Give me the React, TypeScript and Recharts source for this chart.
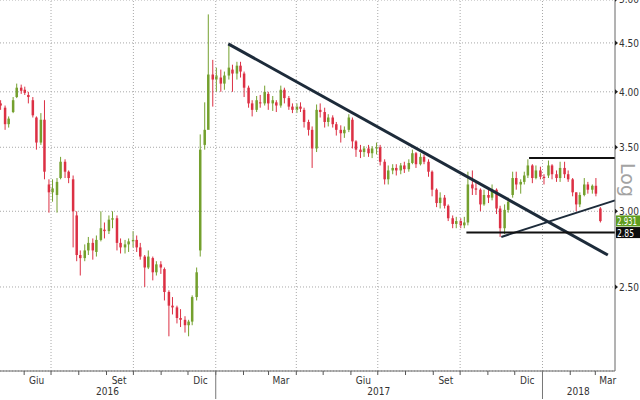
import { ComposedChart, Bar, XAxis, YAxis, CartesianGrid, ReferenceLine } from 'recharts';

// day numbers counted from 2016-01-01, one candle about every 4-5 days
const days = [
  126, 131, 135, 140, 144, 149, 153, 157, 162, 166,
  171, 175, 180, 184, 189, 193, 198, 202, 207, 211,
  215, 220, 224, 229, 233, 238, 242, 247, 251, 256,
  260, 265, 269, 274, 278, 282, 287, 291, 296, 300,
  305, 309, 314, 318, 323, 327, 332, 336, 340, 345,
  349, 354, 358, 363, 367, 372, 376, 381, 385, 390,
  394, 398, 403, 407, 412, 416, 421, 425, 430, 434,
  439, 443, 448, 452, 457, 461, 465, 470, 474, 479,
  483, 488, 492, 497, 501, 506, 510, 515, 519, 523,
  528, 532, 537, 541, 546, 550, 555, 559, 564, 568,
  573, 577, 582, 586, 590, 595, 599, 604, 608, 613,
  617, 622, 626, 631, 635, 640, 644, 648, 653, 657,
  662, 666, 671, 675, 680, 684, 689, 693, 698, 702,
  707, 711, 715, 720, 724, 729, 733, 738, 742, 747,
  751, 756, 760, 765, 769, 773, 778, 782, 787, 791,
  796,
];

const opens = [
  3.89, 3.85, 3.70, 3.81, 3.95, 4.04, 4.02, 3.97, 3.92, 3.76,
  3.54, 3.74, 3.20, 3.14, 3.12, 3.25, 3.38, 3.30, 3.24, 2.97,
  2.70, 2.68, 2.73, 2.78, 2.72, 2.80, 2.87, 2.86, 2.94, 2.95,
  2.78, 2.75, 2.77, 2.79, 2.80, 2.75, 2.69, 2.62, 2.68, 2.59,
  2.64, 2.61, 2.47, 2.39, 2.38, 2.32, 2.31, 2.28, 2.30, 2.44,
  2.73, 3.52, 3.65, 4.17, 4.12, 4.14, 4.08, 4.16, 4.22, 4.18,
  4.26, 4.18, 4.04, 3.89, 3.83, 3.90, 3.89, 3.98, 3.89, 3.90,
  3.87, 4.02, 3.94, 3.86, 3.83, 3.86, 3.83, 3.72, 3.65, 3.49,
  3.83, 3.81, 3.72, 3.76, 3.70, 3.65, 3.62, 3.65, 3.74, 3.55,
  3.48, 3.46, 3.49, 3.45, 3.49, 3.50, 3.38, 3.24, 3.31, 3.33,
  3.31, 3.35, 3.32, 3.37, 3.45, 3.36, 3.42, 3.38, 3.30, 3.16,
  3.06, 3.10, 3.04, 2.95, 2.91, 2.93, 2.90, 2.92, 3.20, 3.17,
  3.16, 3.05, 3.12, 3.10, 3.16, 3.02, 2.88, 3.01, 3.12, 3.25,
  3.20, 3.22, 3.27, 3.35, 3.25, 3.31, 3.26, 3.27, 3.35, 3.28,
  3.25, 3.33, 3.28, 3.24, 3.14, 3.05, 3.12, 3.20, 3.16, 3.19,
  3.02,
];

const highs = [
  3.92, 3.87, 3.77, 3.95, 4.08, 4.07, 4.05, 4.00, 3.95, 3.77,
  3.80, 3.92, 3.24, 3.24, 3.25, 3.42, 3.40, 3.31, 3.27, 3.00,
  2.73, 2.77, 2.82, 2.81, 2.83, 3.00, 2.92, 2.97, 3.00, 2.97,
  2.81, 2.80, 2.81, 2.86, 2.83, 2.78, 2.70, 2.73, 2.69, 2.66,
  2.66, 2.62, 2.48, 2.44, 2.39, 2.37, 2.33, 2.31, 2.45, 2.62,
  3.61, 3.90, 4.82, 4.32, 4.24, 4.22, 4.20, 4.49, 4.27, 4.30,
  4.30, 4.20, 4.06, 3.92, 3.96, 3.97, 4.06, 4.00, 3.96, 3.92,
  4.06, 4.04, 3.96, 3.89, 3.89, 3.90, 3.85, 3.74, 3.68, 3.88,
  3.89, 3.85, 3.79, 3.78, 3.72, 3.69, 3.68, 3.79, 3.76, 3.56,
  3.52, 3.51, 3.52, 3.51, 3.54, 3.52, 3.40, 3.35, 3.36, 3.36,
  3.37, 3.38, 3.40, 3.48, 3.46, 3.45, 3.44, 3.40, 3.31, 3.17,
  3.14, 3.12, 3.05, 2.97, 2.96, 2.95, 2.96, 3.30, 3.31, 3.22,
  3.17, 3.16, 3.17, 3.20, 3.17, 3.04, 3.05, 3.10, 3.30, 3.30,
  3.24, 3.30, 3.40, 3.36, 3.35, 3.34, 3.28, 3.39, 3.36, 3.31,
  3.38, 3.38, 3.31, 3.25, 3.14, 3.14, 3.25, 3.22, 3.20, 3.25,
  3.03,
];

const lows = [
  3.83, 3.65, 3.67, 3.80, 3.94, 3.98, 3.97, 3.89, 3.76, 3.48,
  3.52, 3.24, 2.99, 3.07, 2.99, 3.24, 3.25, 3.21, 2.75, 2.66,
  2.57, 2.66, 2.70, 2.67, 2.69, 2.79, 2.81, 2.84, 2.88, 2.73,
  2.71, 2.71, 2.72, 2.75, 2.72, 2.67, 2.50, 2.61, 2.54, 2.57,
  2.58, 2.42, 2.22, 2.34, 2.29, 2.27, 2.24, 2.22, 2.28, 2.42,
  2.69, 3.48, 3.92, 3.86, 4.00, 4.00, 4.02, 4.12, 4.00, 4.12,
  4.14, 3.95, 3.85, 3.77, 3.81, 3.85, 3.87, 3.83, 3.82, 3.81,
  3.85, 3.89, 3.83, 3.80, 3.80, 3.81, 3.67, 3.60, 3.33, 3.46,
  3.76, 3.67, 3.68, 3.67, 3.60, 3.54, 3.58, 3.63, 3.49, 3.42,
  3.41, 3.42, 3.42, 3.41, 3.44, 3.35, 3.20, 3.20, 3.28, 3.27,
  3.28, 3.29, 3.30, 3.36, 3.33, 3.35, 3.36, 3.26, 3.11, 3.03,
  3.02, 3.02, 2.93, 2.88, 2.88, 2.88, 2.88, 2.90, 3.12, 3.12,
  3.00, 3.04, 3.06, 3.08, 2.98, 2.82, 2.84, 2.99, 3.10, 3.16,
  3.13, 3.20, 3.25, 3.21, 3.24, 3.24, 3.20, 3.25, 3.24, 3.22,
  3.22, 3.25, 3.22, 3.11, 3.00, 3.03, 3.11, 3.13, 3.13, 3.11,
  2.92,
];

const closes = [
  3.87, 3.70, 3.75, 3.92, 4.04, 4.01, 3.99, 3.95, 3.78, 3.54,
  3.74, 3.30, 3.14, 3.17, 3.22, 3.38, 3.30, 3.25, 3.00, 2.70,
  2.68, 2.73, 2.78, 2.73, 2.80, 2.88, 2.86, 2.94, 2.95, 2.78,
  2.75, 2.77, 2.79, 2.80, 2.75, 2.69, 2.62, 2.69, 2.59, 2.64,
  2.62, 2.47, 2.39, 2.38, 2.32, 2.31, 2.28, 2.30, 2.44, 2.59,
  3.48, 3.65, 4.17, 4.12, 4.16, 4.08, 4.16, 4.24, 4.18, 4.26,
  4.20, 4.04, 3.89, 3.83, 3.92, 3.89, 4.00, 3.89, 3.92, 3.87,
  4.02, 3.94, 3.86, 3.83, 3.86, 3.84, 3.72, 3.65, 3.49, 3.83,
  3.81, 3.72, 3.76, 3.70, 3.65, 3.62, 3.65, 3.76, 3.55, 3.48,
  3.46, 3.49, 3.45, 3.49, 3.50, 3.38, 3.24, 3.31, 3.33, 3.31,
  3.35, 3.32, 3.37, 3.45, 3.36, 3.42, 3.38, 3.30, 3.16, 3.06,
  3.10, 3.04, 2.95, 2.91, 2.93, 2.90, 2.92, 3.20, 3.17, 3.16,
  3.05, 3.12, 3.10, 3.16, 3.02, 2.88, 3.01, 3.07, 3.25, 3.20,
  3.22, 3.27, 3.35, 3.25, 3.31, 3.26, 3.25, 3.35, 3.28, 3.25,
  3.33, 3.28, 3.24, 3.14, 3.05, 3.12, 3.20, 3.16, 3.19, 3.13,
  2.93,
];

const priceTicks = [2.5, 3, 3.5, 4, 4.5, 5];
const monthStarts = [152, 182, 213, 244, 274, 305, 335, 366, 397, 425, 456, 486, 517, 547, 578, 609, 639, 670, 700, 731, 762, 790];
const quarterStarts = [182, 274, 366, 456, 547, 639, 731];
const yearStarts = [366, 731];
const monthLabelDays = [166, 258, 349, 439, 531, 623, 714, 804];
const monthLabels = ['Giu', 'Set', 'Dic', 'Mar', 'Giu', 'Set', 'Dic', 'Mar'];
const yearLabelDays = [245, 548, 771];
const yearLabels = ['2016', '2017', '2018'];

const lastPrice = 2.931;
const supportPrice = 2.85;
const resistancePrice = 3.41;

const RED = '#dc3044';
const GREEN = '#74a02e';
const FONT = "'DejaVu Sans Condensed', 'Liberation Sans Narrow', 'Liberation Sans', sans-serif";

const candles = days.map((d, i) => ({
  d,
  range: [lows[i], highs[i]],
  o: opens[i],
  h: highs[i],
  l: lows[i],
  c: closes[i],
}));

const xTicks = Array.from(new Set([...monthStarts, ...monthLabelDays, ...yearLabelDays])).sort((a, b) => a - b);

const Candle = (props: any) => {
  const { x, y, width, height } = props;
  const p = props.payload ?? props;
  if (x == null || y == null) return null;
  const top = Math.min(y, y + height);
  const h = Math.abs(height);
  const span = Math.log(p.h) - Math.log(p.l);
  const toY = (v: number) => (span > 0 ? top + (h * (Math.log(p.h) - Math.log(v))) / span : top);
  const cx = x + width / 2;
  const color = p.c >= p.o ? GREEN : RED;
  const bTop = toY(Math.max(p.o, p.c));
  const bBot = toY(Math.min(p.o, p.c));
  return (
    <g>
      <line x1={cx} x2={cx} y1={top} y2={top + h} stroke={color} strokeWidth={1} />
      <rect x={cx - 1.25} y={bTop} width={2.5} height={Math.max(1, bBot - bTop)} fill={color} />
    </g>
  );
};

const XTick = ({ x, y, payload }: any) => {
  const v = payload.value;
  const mi = monthLabelDays.indexOf(v);
  const yi = yearLabelDays.indexOf(v);
  return (
    <g>
      {monthStarts.includes(v) && <line x1={x} x2={x} y1={y} y2={y + 4} stroke="#555" />}
      {yearStarts.includes(v) && <line x1={x} x2={x} y1={y} y2={y + 28} stroke="#777" />}
      {mi >= 0 && (
        <text x={x} y={y + 13} textAnchor="middle" fontSize={10} fill="#333" fontFamily={FONT}>
          {monthLabels[mi]}
        </text>
      )}
      {yi >= 0 && (
        <text x={x} y={y + 24} textAnchor="middle" fontSize={10} fill="#333" fontFamily={FONT}>
          {yearLabels[yi]}
        </text>
      )}
    </g>
  );
};

const YTick = ({ x, y, payload }: any) => (
  <g>
    <path d={`M${x},${y - 2.5}L${x + 3},${y}L${x},${y + 2.5}Z`} fill="#222" />
    <text x={x + 4} y={y + 4} fontSize={10} fill="#333" fontFamily={FONT}>
      {payload.value.toFixed(2)}
    </text>
  </g>
);

const priceTag = (text: string, bg: string) => (props: any) => {
  const { viewBox } = props;
  const x = viewBox.x + viewBox.width + 1;
  return (
    <g>
      <rect x={x} y={viewBox.y - 5.5} width={24} height={11} fill={bg} />
      <text
        x={x + 1}
        y={viewBox.y + 4}
        fontSize={10}
        fill="#fff"
        fontFamily={FONT}
        textLength={text.length > 4 ? 20 : 17}
        lengthAdjust="spacingAndGlyphs"
      >
        {text}
      </text>
    </g>
  );
};

export default function App() {
  return (
    <div style={{ position: 'absolute', left: 0, top: 0, width: 640, height: 400, background: '#fff', overflow: 'hidden' }}>
      <ComposedChart width={640} height={400} data={candles} margin={{ top: 0, right: 0, bottom: 0, left: 0 }}>
        <CartesianGrid vertical={false} stroke="#a8a8a8" strokeDasharray="1 2" />
        {quarterStarts.map((q) => (
          <ReferenceLine key={q} x={q} stroke="#a8a8a8" strokeDasharray="1 2" />
        ))}
        <XAxis
          dataKey="d"
          type="number"
          domain={[125, 812]}
          allowDataOverflow
          ticks={xTicks}
          interval={0}
          tickLine={false}
          tickSize={0}
          tickMargin={0}
          height={29}
          axisLine={{ stroke: '#666' }}
          tick={(p: any) => <XTick {...p} />}
        />
        <YAxis
          orientation="right"
          type="number"
          scale="log"
          domain={[2.042, 4.99]}
          allowDataOverflow
          ticks={priceTicks}
          interval={0}
          width={25}
          tickLine={false}
          tickSize={0}
          tickMargin={0}
          axisLine={{ stroke: '#666' }}
          tick={(p: any) => <YTick {...p} />}
        />
        <Bar dataKey="range" barSize={3} shape={Candle} isAnimationActive={false} />
        <ReferenceLine
          segment={[{ x: 380, y: 4.49 }, { x: 804, y: 2.7 }]}
          stroke="#1d2b3a"
          strokeWidth={3}
        />
        <ReferenceLine
          segment={[{ x: 685, y: 2.82 }, { x: 812, y: 3.08 }]}
          stroke="#1d2b3a"
          strokeWidth={2}
        />
        <ReferenceLine
          segment={[{ x: 716, y: resistancePrice }, { x: 812, y: resistancePrice }]}
          stroke="#111"
          strokeWidth={2}
        />
        <ReferenceLine
          segment={[{ x: 646, y: supportPrice }, { x: 812, y: supportPrice }]}
          stroke="#111"
          strokeWidth={2}
        />
        <ReferenceLine y={lastPrice} stroke="none" label={priceTag('2.931', '#5f9d1f')} />
        <ReferenceLine y={supportPrice} stroke="none" label={priceTag('2.85', '#0d0d0d')} />
      </ComposedChart>
      <div
        style={{
          position: 'absolute',
          left: 628,
          top: 180,
          transform: 'translate(-50%, -50%) rotate(90deg)',
          color: '#a3a3a3',
          fontSize: 19,
          fontFamily: "'DejaVu Sans', sans-serif",
          whiteSpace: 'nowrap',
        }}
      >
        Log
      </div>
    </div>
  );
}
